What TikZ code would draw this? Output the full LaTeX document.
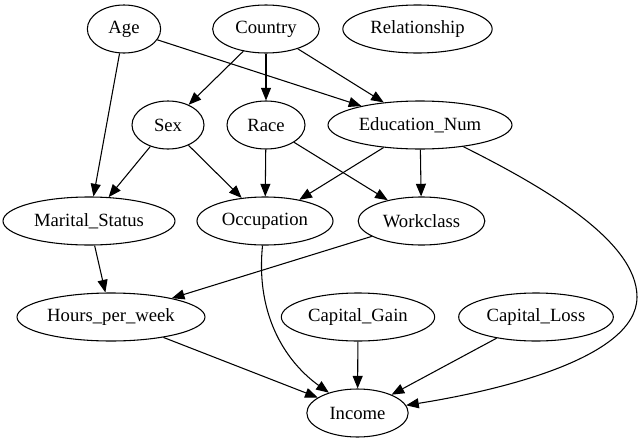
\documentclass[tikz,border=0pt]{standalone}
\usepackage{fontspec}
\setmainfont{Liberation Serif}
\usetikzlibrary{arrows.meta,shapes}

\begin{document}
\begin{tikzpicture}[x=0.75pt,y=-0.75pt,line width=0.8pt,
>={Triangle[length=9.5pt,width=7.5pt]},
var/.style={draw,ellipse,inner sep=0pt,minimum height=36pt,font=\fontsize{14}{16}\selectfont}]
\useasboundingbox (0,0) rectangle (643,443);
% row 1
\node[var,minimum width=55pt](age)at(124,29){Age};
\node[var,minimum width=80pt](cty)at(266,29){Country};
\node[var,minimum width=112pt](rel)at(417.5,29){Relationship};
% row 2
\node[var,minimum width=54pt](sex)at(168,125){Sex};
\node[var,minimum width=58.5pt](race)at(266,125){Race};
\node[var,minimum width=138pt](edu)at(420,125){Education\_Num};
% row 3
\node[var,minimum width=129pt](mar)at(89,221){Marital\_Status};
\node[var,minimum width=102pt](occ)at(265,221){Occupation};
\node[var,minimum width=95pt](wrk)at(421.5,221){Workclass};
% row 4
\node[var,minimum width=141pt](hrs)at(111,317){Hours\_per\_week};
\node[var,minimum width=115pt](cg)at(358,317){Capital\_Gain};
\node[var,minimum width=116pt](cl)at(536,317){Capital\_Loss};
% row 5
\node[var,minimum width=76pt](inc)at(357.5,413){Income};
\coordinate(bend)at(637,297);
\draw[->](age)--(mar);
\draw[->](age)--(edu);
\draw[->](cty)--(sex);
\draw[->](cty)--(race);
\draw[->](cty)--(edu);
\draw[->](sex)--(mar);
\draw[->](sex)--(occ);
\draw[->](race)--(occ);
\draw[->](race)--(wrk);
\draw[->](edu)--(occ);
\draw[->](edu)--(wrk);
\draw[->](mar)--(hrs);
\draw[->](wrk)--(hrs);
\draw[->](hrs)--(inc);
\draw[->](cg)--(inc);
\draw[->](cl)--(inc);
\draw[->](occ) .. controls (255,320) and (290,365) .. (inc);
\draw[->](edu) .. controls (540,185) and (637,240) .. (bend)
 .. controls (637,360) and (490,392) .. (inc);
\end{tikzpicture}
\end{document}
